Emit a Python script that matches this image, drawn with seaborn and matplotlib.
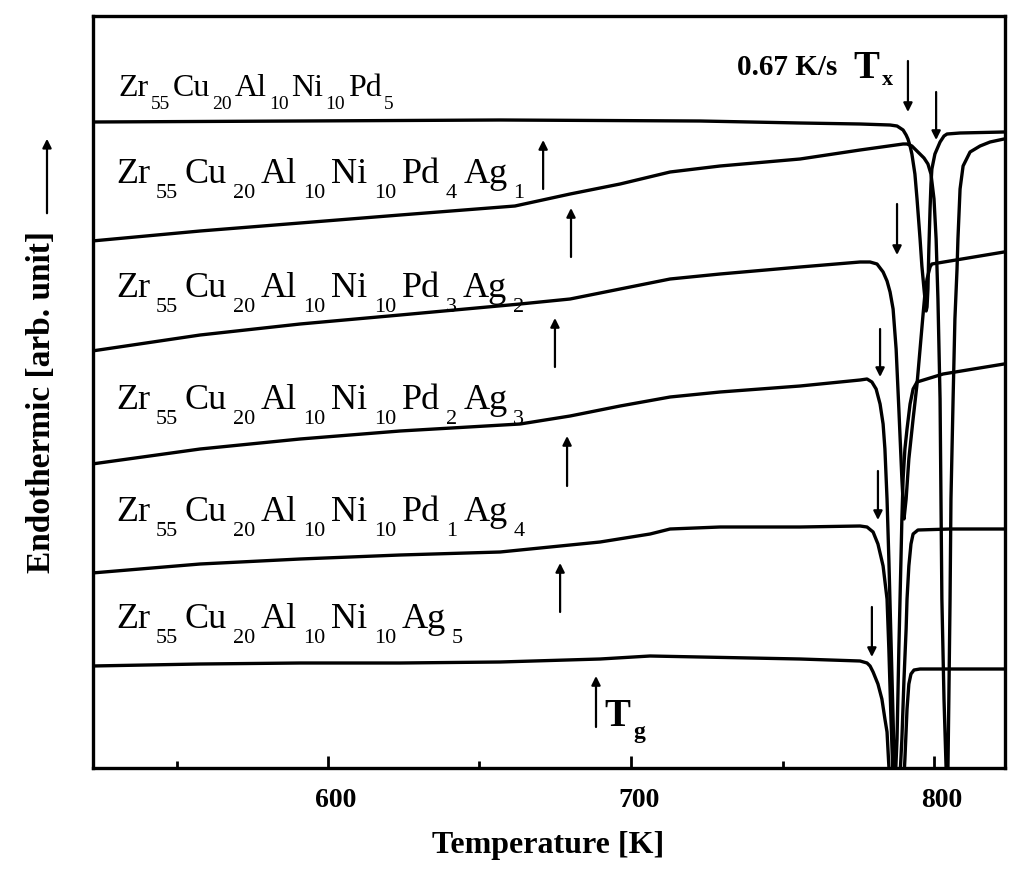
import matplotlib
matplotlib.use("Agg")
import numpy as np
import pandas as pd
import matplotlib.pyplot as plt
import matplotlib.transforms as mtransforms
import seaborn as sns

# ---------------- data ----------------
alloys = ["Pd5", "Pd4Ag1", "Pd3Ag2", "Pd2Ag3", "Pd1Ag4", "Ag5"]
pd_content = [5, 4, 3, 2, 1, 0]
ag_content = [0, 1, 2, 3, 4, 5]
base_elements = [("Zr", 55), ("Cu", 20), ("Al", 10), ("Ni", 10)]

T_pd5 = [522.1, 590.8, 656.8, 722.8, 755.8, 775.6, 785.5, 787.8, 789.8, 790.8, 791.4, 792.1, 792.7,
         793.7, 794.4, 795.4, 796.0, 796.7, 797.4, 797.7, 798.0, 798.3, 798.7, 799.0, 799.3, 800.3,
         802.0, 803.3, 804.3, 808.6, 823.1]
S_pd5 = [6.46, 6.47, 6.48, 6.47, 6.45, 6.44, 6.43, 6.42, 6.38, 6.33, 6.29, 6.22, 6.14,
         5.94, 5.69, 5.29, 5.02, 4.79, 4.57, 4.61, 4.79, 5.19, 5.59, 5.84, 5.99, 6.14,
         6.26, 6.32, 6.34, 6.35, 6.36]

T_pd4ag1 = [522.1, 557.8, 590.8, 623.8, 661.7, 679.9, 696.4, 712.9, 729.4, 755.8, 775.6, 789.8,
            791.1, 792.7, 794.7, 796.7, 798.0, 799.0, 800.0, 800.7, 801.3, 802.0, 802.3, 802.6,
            803.3, 804.0, 804.3, 804.6, 804.9, 805.3, 805.6, 806.3, 806.9, 807.6, 807.9, 808.6,
            809.6, 811.9, 815.2, 818.5, 823.1]
S_pd4ag1 = [5.27, 5.37, 5.45, 5.53, 5.62, 5.74, 5.84, 5.96, 6.02, 6.09, 6.18, 6.24,
            6.24, 6.22, 6.16, 6.10, 6.04, 5.94, 5.69, 5.29, 4.69, 3.69, 2.69, 1.69,
            0.69, -0.01, -0.16, -0.01, 0.69, 1.69, 2.69, 3.69, 4.49, 4.99, 5.29, 5.79,
            6.02, 6.16, 6.22, 6.26, 6.29]

T_pd3ag2 = [522.1, 557.8, 590.8, 623.8, 663.4, 679.9, 696.4, 712.9, 729.4, 755.8, 775.6, 778.9,
            781.2, 783.2, 784.5, 785.5, 786.5, 787.5, 788.4, 789.4, 790.1, 790.8, 791.7, 793.1,
            794.4, 795.4, 796.4, 797.0, 797.7, 798.7, 799.3, 823.1]
S_pd3ag2 = [4.17, 4.33, 4.44, 4.53, 4.64, 4.69, 4.79, 4.89, 4.94, 5.01, 5.06, 5.06,
            5.04, 4.96, 4.87, 4.76, 4.59, 4.19, 3.59, 2.89, 2.49, 2.69, 3.09, 3.49,
            3.84, 4.19, 4.54, 4.74, 4.89, 5.01, 5.04, 5.16]

T_pd2ag3 = [522.1, 557.8, 590.8, 623.8, 663.4, 679.9, 696.4, 712.9, 729.4, 755.8, 775.6, 777.9,
            779.5, 780.9, 782.2, 783.2, 783.8, 784.5, 785.1, 785.8, 786.5, 787.1, 787.8, 788.4,
            789.1, 789.4, 789.8, 790.4, 791.1, 792.1, 793.1, 794.4, 803.0, 823.1]
S_pd2ag3 = [3.04, 3.19, 3.29, 3.37, 3.44, 3.52, 3.62, 3.71, 3.76, 3.82, 3.88, 3.89,
            3.86, 3.79, 3.64, 3.44, 3.19, 2.69, 2.09, 1.29, 0.49, -0.21, 0.29, 1.19,
            2.09, 2.49, 2.89, 3.19, 3.39, 3.64, 3.79, 3.86, 3.94, 4.04]

T_pd1ag4 = [522.1, 557.8, 590.8, 623.8, 656.8, 689.8, 706.3, 712.9, 729.4, 755.8, 775.6, 777.9,
            779.9, 781.5, 783.2, 784.5, 785.1, 785.8, 786.5, 787.5, 788.4, 789.4, 790.1, 790.8,
            791.1, 791.7, 792.4, 793.1, 794.7, 805.3, 823.1]
S_pd1ag4 = [1.95, 2.04, 2.09, 2.13, 2.16, 2.26, 2.34, 2.39, 2.41, 2.41, 2.42, 2.41,
            2.36, 2.24, 2.02, 1.69, 1.19, 0.49, -0.11, -0.61, -0.31, 0.29, 0.89, 1.39,
            1.69, 2.02, 2.24, 2.34, 2.38, 2.39, 2.39]

T_ag5 = [522.1, 557.8, 590.8, 623.8, 656.8, 689.8, 706.3, 722.8, 739.3, 755.8, 775.6, 777.9,
         778.9, 779.9, 781.5, 782.8, 783.8, 784.5, 785.1, 785.8, 787.5, 789.4, 790.4, 791.1,
         791.7, 792.4, 793.4, 795.4, 823.1]
S_ag5 = [1.02, 1.04, 1.05, 1.05, 1.06, 1.09, 1.12, 1.11, 1.10, 1.09, 1.07, 1.05,
         1.02, 0.96, 0.84, 0.69, 0.49, 0.36, 0.02, -0.31, -0.91, -0.51, 0.09, 0.59,
         0.84, 0.94, 0.98, 0.99, 0.99]

# glass transition / crystallization temperatures marked by arrows (K)
Tg_values = [None, 671.0, 680.2, 674.9, 678.9, 676.6]
Tx_values = [791.4, 800.7, 787.8, 782.2, 781.5, 779.5]

xticks_major = [600, 700, 800]
xticks_minor = [550, 650, 750]

# ---------------- layout (pixel geometry) ----------------
W, H = 1009, 878


def px2T(px):
    return 600 + (px - 328) / 3.03


def py2S(py):
    return (769 - py) / 100.0


label_x0_px = [118, 116, 116, 116, 116, 116]
label_baseline_py = [96, 183, 297, 409, 521, 628]
label_main_size = [23, 26, 26, 26, 26, 26]
label_sub_size = [14, 16, 16, 16, 16, 16]
label_gap_px = [2.5, 6, 6, 6, 6, 6]
label_sub_drop = [13, 15, 15, 15, 15, 15]
tg_arrow_py = [None, (190, 141), (258, 209), (368, 319), (487, 437), (613, 564)]
tx_arrow_py = [(62, 113), (93, 141), (205, 256), (330, 378), (472, 521), (608, 658)]

# ---------------- style ----------------
sns.set_theme(style="ticks")
plt.rcParams["font.family"] = ["Liberation Serif", "DejaVu Serif"]
for k in ["text.color", "axes.labelcolor", "xtick.color", "ytick.color", "axes.edgecolor"]:
    plt.rcParams[k] = "black"

fig = plt.figure(figsize=(W / 100, H / 100), dpi=100)
ax = fig.add_axes([93 / W, 1 - 769 / H, (1005 - 93) / W, (769 - 17) / H])

frames = []
for name, T, S in zip(alloys,
                      [T_pd5, T_pd4ag1, T_pd3ag2, T_pd2ag3, T_pd1ag4, T_ag5],
                      [S_pd5, S_pd4ag1, S_pd3ag2, S_pd2ag3, S_pd1ag4, S_ag5]):
    frames.append(pd.DataFrame({"T": T, "S": S, "alloy": name}))
df = pd.concat(frames, ignore_index=True)

sns.lineplot(data=df, x="T", y="S", units="alloy", estimator=None, sort=False,
             color="black", lw=2.4, ax=ax, legend=False)

ax.set_xlim(px2T(93), px2T(1005))
ax.set_ylim(0, 7.52)
ax.set_xticks(xticks_major)
ax.set_xticks(xticks_minor, minor=True)
ax.set_yticks([])
ax.set_xlabel("")
ax.set_ylabel("")
ax.tick_params(axis="x", which="major", direction="in", length=9, width=2, pad=14,
               labelsize=20, colors="black")
ax.tick_params(axis="x", which="minor", direction="in", length=5, width=2)
shift = mtransforms.ScaledTranslation(8 / 100, 0, fig.dpi_scale_trans)
for lab in ax.get_xticklabels():
    lab.set_fontweight("bold")
    lab.set_transform(lab.get_transform() + shift)
for sp in ax.spines.values():
    sp.set_linewidth(2.4)
    sp.set_color("black")

renderer = fig.canvas.get_renderer()


def draw_tokens(tokens, x0, base_py, main_size, sub_size, gap, sub_drop, weight="normal"):
    """tokens: list of (string, is_subscript); positions in figure pixels."""
    x = x0
    for s, is_sub in tokens:
        fs = sub_size if is_sub else main_size
        y = base_py + (sub_drop if is_sub else 0)
        t = fig.text(x / W, 1 - y / H, s, fontsize=fs, ha="left", va="baseline",
                     fontweight=weight, color="black")
        x += t.get_window_extent(renderer).width + gap
    return x


# composition labels
for i in range(len(alloys)):
    toks = []
    for el, n in base_elements:
        toks += [(el, False), (str(n), True)]
    if pd_content[i] > 0:
        toks += [("Pd", False), (str(pd_content[i]), True)]
    if ag_content[i] > 0:
        toks += [("Ag", False), (str(ag_content[i]), True)]
    draw_tokens(toks, label_x0_px[i], label_baseline_py[i], label_main_size[i],
                label_sub_size[i], label_gap_px[i], label_sub_drop[i])

arrow_kw = dict(arrowstyle="-|>", color="black", lw=1.6, mutation_scale=13, shrinkA=0, shrinkB=0)
for tg, yy in zip(Tg_values, tg_arrow_py):
    if tg is None:
        continue
    ax.annotate("", xy=(tg, py2S(yy[1])), xytext=(tg, py2S(yy[0])), arrowprops=arrow_kw)
for tx, yy in zip(Tx_values, tx_arrow_py):
    ax.annotate("", xy=(tx, py2S(yy[1])), xytext=(tx, py2S(yy[0])), arrowprops=arrow_kw)

# Tg legend arrow and label, Tx label, heating rate
ax.annotate("", xy=(px2T(596), py2S(677)), xytext=(px2T(596), py2S(728)), arrowprops=arrow_kw)
draw_tokens([("T", False), ("g", True)], 604, 726, 28, 17, 3, 12, weight="bold")
draw_tokens([("T", False), ("x", True)], 853, 78, 28, 16, 3, 7, weight="bold")
fig.text(737 / W, 1 - 75 / H, "0.67 K/s", fontsize=21, fontweight="bold",
         ha="left", va="baseline")

# axis titles
fig.text(548 / W, 1 - 846 / H, "Temperature [K]", fontsize=23, fontweight="bold",
         ha="center", va="center")
fig.text(42 / W, 1 - 402 / H, "Endothermic [arb. unit]", fontsize=24, fontweight="bold",
         ha="center", va="center", rotation=90)
fig.patches.append(matplotlib.patches.FancyArrowPatch(
    (47 / W, 1 - 217 / H), (47 / W, 1 - 137 / H), transform=fig.transFigure,
    arrowstyle="-|>", mutation_scale=13, lw=1.6, color="black"))

fig.savefig("out.png", dpi=100, facecolor="white")
